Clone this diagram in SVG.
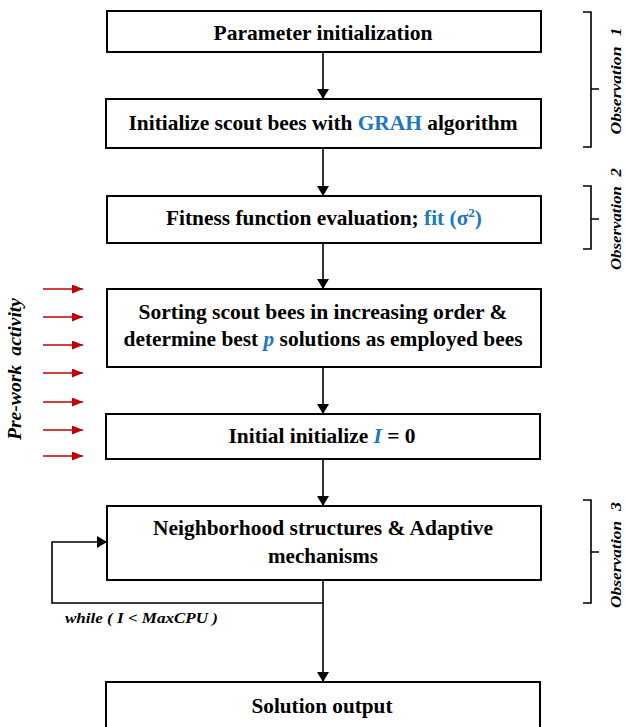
<svg xmlns="http://www.w3.org/2000/svg" width="626" height="727" viewBox="0 0 626 727">
  <style>
    .box { fill: #ffffff; stroke: #000000; stroke-width: 2; }
    .lbl { font-family: "Liberation Serif", "Times New Roman", serif; font-weight: bold; font-size: 21px; fill: #000000; text-anchor: middle; }
    .hl { fill: #2176c2; }
    .edge { fill: none; stroke: #000000; stroke-width: 1.6; }
    .red { fill: none; stroke: #c00000; stroke-width: 1.6; }
    .side { font-family: "Liberation Serif", "Times New Roman", serif; font-weight: bold; font-style: italic; fill: #000000; }
    .brace { fill: none; stroke: #000000; stroke-width: 1.6; }
  </style>
  <defs>
    <marker id="arrow" viewBox="0 0 10 12" refX="10" refY="6" markerWidth="10" markerHeight="12" markerUnits="userSpaceOnUse" orient="auto">
      <path d="M0,0 L10,6 L0,12 Z" fill="#000000"/>
    </marker>
    <marker id="arrowRed" viewBox="0 0 11 9" refX="11" refY="4.5" markerWidth="11" markerHeight="9" markerUnits="userSpaceOnUse" orient="auto">
      <path d="M0,0 L11,4.5 L0,9 Z" fill="#c00000"/>
    </marker>
  </defs>

  <rect width="626" height="727" fill="#ffffff"/>

  <!-- connectors -->
  <g id="connectors">
    <line class="edge" x1="323" y1="52" x2="323" y2="99" marker-end="url(#arrow)"/>
    <line class="edge" x1="323" y1="148" x2="323" y2="196" marker-end="url(#arrow)"/>
    <line class="edge" x1="323" y1="243" x2="323" y2="289" marker-end="url(#arrow)"/>
    <line class="edge" x1="323" y1="367" x2="323" y2="414" marker-end="url(#arrow)"/>
    <line class="edge" x1="323" y1="459" x2="323" y2="506" marker-end="url(#arrow)"/>
    <line class="edge" x1="323" y1="580" x2="323" y2="682" marker-end="url(#arrow)"/>
    <polyline class="edge" points="323,603 52,603 52,542 107,542" marker-end="url(#arrow)"/>
    <text class="side" x="65" y="623" font-size="15" textLength="153" lengthAdjust="spacingAndGlyphs">while ( I &lt; MaxCPU )</text>
  </g>

  <!-- pre-work inputs -->
  <g id="prework">
    <line class="red" x1="43" y1="289" x2="83" y2="289" marker-end="url(#arrowRed)"/>
    <line class="red" x1="43" y1="317" x2="83" y2="317" marker-end="url(#arrowRed)"/>
    <line class="red" x1="43" y1="345" x2="83" y2="345" marker-end="url(#arrowRed)"/>
    <line class="red" x1="43" y1="373" x2="83" y2="373" marker-end="url(#arrowRed)"/>
    <line class="red" x1="43" y1="402" x2="83" y2="402" marker-end="url(#arrowRed)"/>
    <line class="red" x1="43" y1="430" x2="83" y2="430" marker-end="url(#arrowRed)"/>
    <line class="red" x1="43" y1="456" x2="83" y2="456" marker-end="url(#arrowRed)"/>
    <text class="side" font-size="18" text-anchor="middle" word-spacing="4" textLength="142" lengthAdjust="spacingAndGlyphs" transform="translate(21,369) rotate(-90)">Pre-work activity</text>
  </g>

  <!-- observation braces -->
  <g id="observations">
    <path class="brace" d="M583,12 H591 V147 H583 M591,89 H599"/>
    <text class="side" font-size="15" text-anchor="middle" word-spacing="5" textLength="107" lengthAdjust="spacingAndGlyphs" transform="translate(621,81) rotate(-90)">Observation 1</text>
    <path class="brace" d="M583,186 H591 V249 H583 M591,219 H599"/>
    <text class="side" font-size="15" text-anchor="middle" word-spacing="5" textLength="102" lengthAdjust="spacingAndGlyphs" transform="translate(621,219) rotate(-90)">Observation 2</text>
    <path class="brace" d="M583,500 H591 V603 H583 M591,552 H599"/>
    <text class="side" font-size="15" text-anchor="middle" word-spacing="5" textLength="106" lengthAdjust="spacingAndGlyphs" transform="translate(621,555) rotate(-90)">Observation 3</text>
  </g>

  <g id="n1">
    <rect class="box" x="107" y="11" width="434" height="41"/>
    <text class="lbl" x="323" y="40" textLength="219" lengthAdjust="spacingAndGlyphs">Parameter initialization</text>
  </g>
  <g id="n2">
    <rect class="box" x="106" y="99" width="435" height="49"/>
    <text class="lbl" x="323" y="130" textLength="389" lengthAdjust="spacingAndGlyphs">Initialize scout bees with <tspan class="hl">GRAH</tspan> algorithm</text>
  </g>
  <g id="n3">
    <rect class="box" x="107" y="196" width="434" height="47"/>
    <text class="lbl" x="324" y="225" textLength="316" lengthAdjust="spacingAndGlyphs">Fitness function evaluation; <tspan class="hl">fit (σ<tspan font-size="13" dy="-8">2</tspan><tspan dy="8">)</tspan></tspan></text>
  </g>
  <g id="n4">
    <rect class="box" x="107" y="289" width="434" height="78"/>
    <text class="lbl" x="323" y="319" textLength="369" lengthAdjust="spacingAndGlyphs">Sorting scout bees in increasing order &amp;</text>
    <text class="lbl" x="323" y="346" textLength="399" lengthAdjust="spacingAndGlyphs">determine best <tspan class="hl" font-style="italic">p</tspan> solutions as employed bees</text>
  </g>
  <g id="n5">
    <rect class="box" x="106" y="414" width="434" height="45"/>
    <text class="lbl" x="322" y="443" textLength="187" lengthAdjust="spacingAndGlyphs">Initial initialize <tspan class="hl" font-style="italic">I</tspan> = 0</text>
  </g>
  <g id="n6">
    <rect class="box" x="107" y="506" width="434" height="74"/>
    <text class="lbl" x="323" y="535" textLength="340" lengthAdjust="spacingAndGlyphs">Neighborhood structures &amp; Adaptive</text>
    <text class="lbl" x="323" y="563" textLength="110" lengthAdjust="spacingAndGlyphs">mechanisms</text>
  </g>
  <g id="n7">
    <rect class="box" x="106" y="682" width="434" height="50"/>
    <text class="lbl" x="322" y="713" textLength="141" lengthAdjust="spacingAndGlyphs">Solution output</text>
  </g>
</svg>
